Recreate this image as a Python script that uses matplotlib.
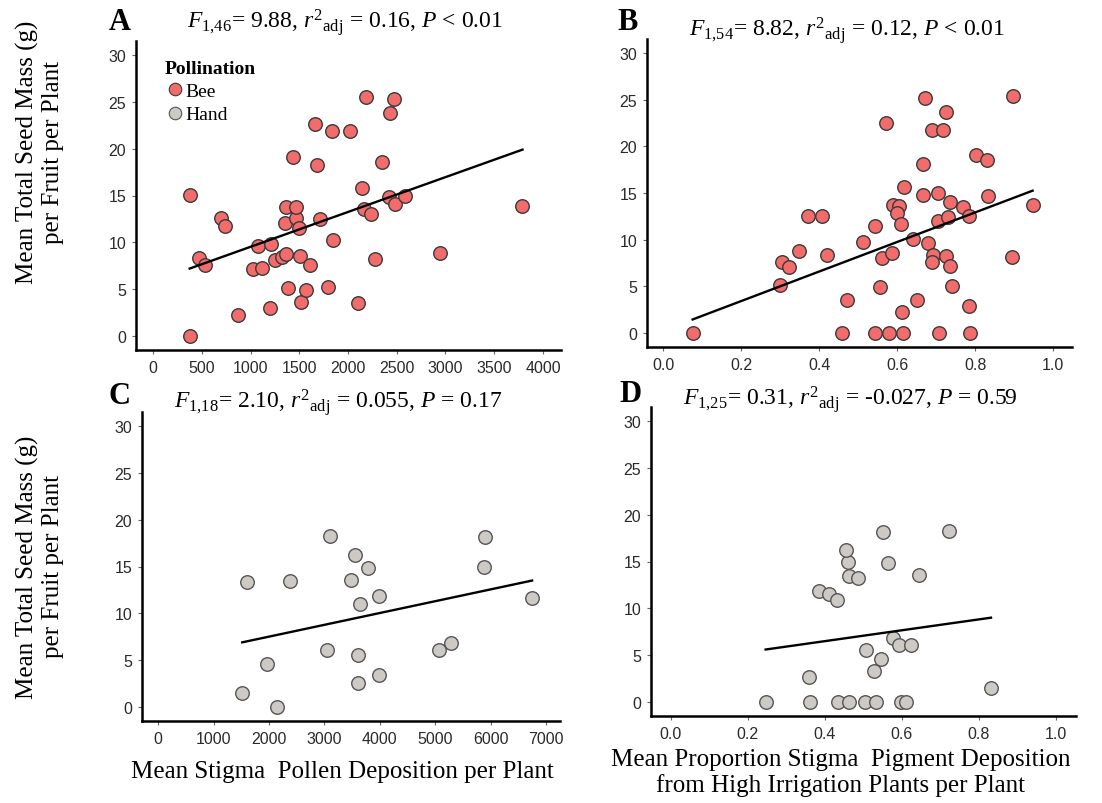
import numpy as np
import matplotlib
matplotlib.use("Agg")
import matplotlib.pyplot as plt
from matplotlib.lines import Line2D

plt.rcParams['font.family'] = ['Liberation Serif', 'DejaVu Serif']
plt.rcParams['mathtext.fontset'] = 'custom'
plt.rcParams['mathtext.rm'] = 'Liberation Serif'
plt.rcParams['mathtext.it'] = 'Liberation Serif:italic'
plt.rcParams['mathtext.bf'] = 'Liberation Serif:bold'

# Panel A: bee pollinated, pollen deposition
a_x = [376, 383, 472, 530, 701, 742, 872, 1026, 1081, 1122, 1197, 1214, 1248, 1327,
       1361, 1351, 1368, 1385, 1467, 1471, 1498, 1505, 1522, 1566, 1607, 1717, 1799,
       1847, 2103, 2148, 2165, 2240, 2278, 2421, 2486, 2582, 2948, 3783, 2182, 2469,
       2428, 1658, 1836, 2017, 1436, 1686, 2353]
a_y = [15.1, 0, 8.3, 7.6, 12.6, 11.75, 2.25, 7.1, 9.6, 7.3, 2.96, 9.8, 8.1, 8.4,
       8.7, 12.1, 13.8, 5.1, 12.6, 13.8, 11.5, 8.5, 3.6, 4.96, 7.6, 12.5, 5.2,
       10.2, 3.5, 15.8, 13.6, 13.0, 8.2, 14.8, 14.1, 15.0, 8.9, 13.9, 25.5, 25.3,
       23.8, 22.6, 21.9, 21.9, 19.1, 18.25, 18.6]
a_fit_x = [376, 3790]
a_fit_y = [7.2, 19.9]

# Panel B: bee pollinated, pigment deposition
b_x = [0.075, 0.299, 0.305, 0.323, 0.348, 0.372, 0.408, 0.419, 0.457, 0.470, 0.511,
       0.543, 0.543, 0.556, 0.561, 0.579, 0.586, 0.590, 0.605, 0.598, 0.609, 0.611,
       0.614, 0.618, 0.641, 0.650, 0.667, 0.679, 0.691, 0.688, 0.705, 0.708, 0.705,
       0.725, 0.729, 0.735, 0.735, 0.741, 0.768, 0.783, 0.783, 0.786, 0.832, 0.895,
       0.947, 0.570, 0.672, 0.897, 0.725, 0.689, 0.716, 0.667, 0.803, 0.830]
b_y = [0, 5.14, 7.6, 7.06, 8.8, 12.5, 12.5, 8.4, 0, 3.5, 9.7,
       11.45, 0, 4.9, 8.05, 0, 8.6, 13.75, 13.65, 12.9, 11.65, 2.23,
       0, 15.6, 10.1, 3.5, 14.8, 9.6, 8.4, 7.6, 15.0, 0, 12.0,
       8.2, 12.4, 14.0, 7.2, 5.07, 13.5, 12.5, 2.94, 0, 14.65, 8.16,
       13.76, 22.5, 25.2, 25.35, 23.65, 21.7, 21.7, 18.1, 19.07, 18.5]
b_fit_x = [0.075, 0.947]
b_fit_y = [1.45, 15.25]

# Panel C: hand pollinated, pollen deposition
c_x = [1518, 1596, 1958, 2145, 2386, 3042, 3482, 3602, 3602, 3645, 3783, 3982,
       3982, 5060, 5283, 5886, 6747, 3102, 3554, 5892]
c_y = [1.5, 13.3, 4.57, 0, 13.5, 6.07, 13.6, 5.5, 2.6, 11.0, 14.8, 11.9,
       3.36, 6.07, 6.8, 15.0, 11.6, 18.3, 16.2, 18.2]
c_fit_x = [1518, 6747]
c_fit_y = [6.9, 13.5]

# Panel D: hand pollinated, pigment deposition
d_x = [0.246, 0.358, 0.361, 0.386, 0.410, 0.431, 0.433, 0.463, 0.459, 0.463, 0.485,
       0.504, 0.508, 0.528, 0.534, 0.547, 0.564, 0.577, 0.592, 0.598, 0.610, 0.623,
       0.646, 0.832, 0.456, 0.550, 0.724]
d_y = [0, 2.67, 0, 11.85, 11.5, 10.9, 0, 0, 14.95, 13.5, 13.2,
       0, 5.5, 3.3, 0, 4.55, 14.8, 6.8, 6.05, 0, 0, 6.05,
       13.6, 1.5, 16.2, 18.1, 18.25]
d_fit_x = [0.246, 0.832]
d_fit_y = [5.6, 9.0]

titles = [r'$F_{1{,}46}$= 9.88, $r^{2}{}_{\mathrm{adj}}$ = 0.16, $P$ < 0.01',
          r'$F_{1{,}54}$= 8.82, $r^{2}{}_{\mathrm{adj}}$ = 0.12, $P$ < 0.01',
          r'$F_{1{,}18}$= 2.10, $r^{2}{}_{\mathrm{adj}}$ = 0.055, $P$ = 0.17',
          r'$F_{1{,}25}$= 0.31, $r^{2}{}_{\mathrm{adj}}$ = -0.027, $P$ = 0.59']
letters = ['A', 'B', 'C', 'D']
pollen_ticks = [0, 500, 1000, 1500, 2000, 2500, 3000, 3500, 4000]
pollen_ticks_c = [0, 1000, 2000, 3000, 4000, 5000, 6000, 7000]
prop_ticks = [0.0, 0.2, 0.4, 0.6, 0.8, 1.0]
y_ticks = [0, 5, 10, 15, 20, 25, 30]

W, H = 1102, 804
fig = plt.figure(figsize=(W / 100, H / 100), dpi=100)

def px_rect(left, right, top, bottom):
    return [left / W, 1 - bottom / H, (right - left) / W, (bottom - top) / H]

bee_fc, bee_ec = '#F26C6C', '#3a3a3a'
hand_fc, hand_ec = '#CDCAC6', '#555555'

panels = [
    (px_rect(136, 561, 42, 351), a_x, a_y, a_fit_x, a_fit_y, bee_fc, bee_ec, (-175, 4185), pollen_ticks, None),
    (px_rect(647, 1072, 40, 348), b_x, b_y, b_fit_x, b_fit_y, bee_fc, bee_ec, (-0.042, 1.048), prop_ticks, '%.1f'),
    (px_rect(142, 560, 413, 722), c_x, c_y, c_fit_x, c_fit_y, hand_fc, hand_ec, (-290, 7250), pollen_ticks_c, None),
    (px_rect(651, 1076, 408, 717), d_x, d_y, d_fit_x, d_fit_y, hand_fc, hand_ec, (-0.052, 1.053), prop_ticks, '%.1f'),
]

axes = []
for rect, xs, ys, fx, fy, fc, ec, xlim, xt, fmt in panels:
    ax = fig.add_axes(rect)
    ax.scatter(xs, ys, s=95, facecolor=fc, edgecolor=ec, linewidth=1.0, zorder=3)
    ax.plot(fx, fy, color='black', lw=1.7, zorder=4)
    ax.set_xlim(*xlim)
    ax.set_ylim(-1.5, 31.5)
    ax.set_xticks(xt)
    if fmt:
        ax.set_xticklabels([fmt % v for v in xt])
    ax.set_yticks(y_ticks)
    for s in ['top', 'right']:
        ax.spines[s].set_visible(False)
    for s in ['left', 'bottom']:
        ax.spines[s].set_linewidth(1.8)
        ax.spines[s].set_color('black')
    ax.tick_params(direction='out', length=3, width=0.8, color='#666666',
                   labelsize=11.5, labelcolor='#2a2a2a', pad=4)
    for lab in ax.get_xticklabels() + ax.get_yticklabels():
        lab.set_family('Liberation Sans')
    axes.append(ax)

# titles and panel letters
title_pos = [(345, 22), (847, 30), (338, 403), (850, 400)]
letter_pos = [(120, 22), (628, 22), (120, 397), (630, 395)]
for t, (tx, ty), l, (lx, ly) in zip(titles, title_pos, letters, letter_pos):
    fig.text(tx / W, 1 - ty / H, t, ha='center', va='center', fontsize=17)
    fig.text(lx / W, 1 - ly / H, l, ha='center', va='center', fontsize=22, fontweight='bold')

# y labels
ylab = 'Mean Total Seed Mass (g)\nper Fruit per Plant'
fig.text(40 / W, 1 - 152 / H, ylab, rotation=90, ha='center', va='center',
         fontsize=18, multialignment='center', linespacing=1.15)
fig.text(40 / W, 1 - 567 / H, ylab, rotation=90, ha='center', va='center',
         fontsize=18, multialignment='center', linespacing=1.15)

# x labels
fig.text(342 / W, 1 - 772 / H, 'Mean Stigma  Pollen Deposition per Plant',
         ha='center', va='center', fontsize=18)
fig.text(841 / W, 1 - 773 / H,
         'Mean Proportion Stigma  Pigment Deposition\nfrom High Irrigation Plants per Plant',
         ha='center', va='center', fontsize=18, multialignment='center', linespacing=1.15)

# legend in panel A
handles = [Line2D([], [], ls='none', marker='o', ms=9, mfc=bee_fc, mec=bee_ec, mew=0.8),
           Line2D([], [], ls='none', marker='o', ms=9, mfc=hand_fc, mec=hand_ec, mew=0.8)]
leg = axes[0].legend(handles, ['Bee', 'Hand'], title='Pollination', loc='upper left',
                     bbox_to_anchor=(0.05, 0.965), frameon=False, fontsize=14,
                     title_fontproperties={'weight': 'bold', 'size': 14},
                     handletextpad=0.05, handlelength=1.0, labelspacing=0.3,
                     alignment='left', borderaxespad=0)

fig.savefig('out.png', dpi=100)
